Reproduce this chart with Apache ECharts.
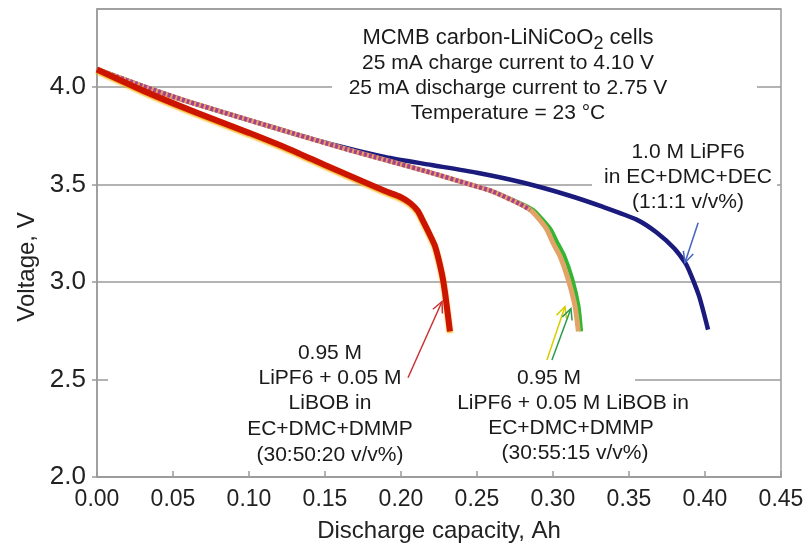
<!DOCTYPE html>
<html>
<head>
<meta charset="utf-8">
<title>Discharge capacity</title>
<script src="https://cdn.jsdelivr.net/npm/echarts@6/dist/echarts.min.js"></script>
<style>
  html, body { margin: 0; padding: 0; background: #fff; }
  #discharge-echart { width: 809px; height: 548px; }
</style>
</head>
<body>
<div id="discharge-echart"></div>
<script>
// axes
var xTicks = [0, 0.05, 0.1, 0.15, 0.2, 0.25, 0.3, 0.35, 0.4, 0.45];
var yTicks = [2.0, 2.5, 3.0, 3.5, 4.0];
var yMax = 4.4;

// 1.0 M LiPF6 in EC+DMC+DEC (1:1:1)
var capBlue = [0, 0.03, 0.06, 0.1, 0.13, 0.16, 0.19, 0.22, 0.25, 0.28, 0.31, 0.333, 0.355, 0.368, 0.38, 0.388, 0.396, 0.402];
var voltBlue = [4.09, 4.005, 3.925, 3.83, 3.76, 3.695, 3.64, 3.6, 3.56, 3.51, 3.445, 3.385, 3.32, 3.255, 3.17, 3.085, 2.93, 2.756];

// 0.95 M LiPF6 + 0.05 M LiBOB in EC+DMC+DMMP (30:50:20)
var capRed = [0, 0.0322, 0.065, 0.1, 0.127, 0.15, 0.175, 0.19, 0.2, 0.206, 0.211, 0.2147, 0.2185, 0.2224, 0.2268, 0.229, 0.2322];
var voltRed = [4.09, 3.975, 3.87, 3.765, 3.68, 3.6, 3.515, 3.465, 3.435, 3.405, 3.365, 3.31, 3.25, 3.184, 3.047, 2.944, 2.747];

// 0.95 M LiPF6 + 0.05 M LiBOB in EC+DMC+DMMP (30:55:15), cell a
var capOrange = [0, 0.03, 0.06, 0.1, 0.13, 0.16, 0.19, 0.22, 0.2454, 0.26, 0.2783, 0.2849, 0.29, 0.2959, 0.3, 0.3046, 0.31, 0.3145, 0.3167];
var voltOrange = [4.09, 4.005, 3.925, 3.83, 3.76, 3.69, 3.625, 3.56, 3.5, 3.465, 3.4, 3.37, 3.33, 3.27, 3.2, 3.133, 3.013, 2.876, 2.747];

// same electrolyte, cell b
var capGreen = [0, 0.03, 0.06, 0.1, 0.13, 0.16, 0.19, 0.22, 0.2454, 0.26, 0.2783, 0.287, 0.292, 0.2985, 0.303, 0.3075, 0.3128, 0.3168, 0.3185];
var voltGreen = [4.09, 4.005, 3.925, 3.83, 3.76, 3.69, 3.625, 3.56, 3.5, 3.465, 3.405, 3.37, 3.33, 3.27, 3.2, 3.133, 3.013, 2.876, 2.747];

// arrows: [tailCap, tailVolt, headCap, headVolt]
var arrowRed = [0.2046, 2.509, 0.2270, 2.90];
var arrowYellow = [0.2960, 2.60, 0.3079, 2.874];
var arrowGreen = [0.2993, 2.60, 0.3118, 2.864];
var arrowBlue = [0.3955, 3.304, 0.3868, 3.099];

function pairs(xs, ys) {
  return xs.map(function (x, i) { return [x, ys[i]]; });
}

var FONT = '"Liberation Sans", Arial, Helvetica, sans-serif';
var pinkCount = capOrange.indexOf(0.2849) + 1;

var chart = echarts.init(document.getElementById('discharge-echart'));

chart.setOption({
  animation: false,
  backgroundColor: '#fff',
  grid: {
    left: 97,
    right: 28,
    top: 9,
    bottom: 71,
    show: true,
    borderColor: '#9a9a9a',
    borderWidth: 1.5
  },
  xAxis: {
    type: 'value',
    min: xTicks[0],
    max: xTicks[xTicks.length - 1],
    interval: 0.05,
    name: 'Discharge capacity, Ah',
    nameLocation: 'middle',
    nameGap: 42,
    nameTextStyle: { fontFamily: FONT, fontSize: 24, color: '#222' },
    axisLine: { lineStyle: { color: '#9a9a9a', width: 1.5 } },
    axisTick: { inside: true, length: 6, lineStyle: { color: '#9a9a9a', width: 1.5 } },
    axisLabel: {
      margin: 11,
      fontFamily: FONT,
      fontSize: 23,
      color: '#222',
      formatter: function (v) { return v.toFixed(2); }
    },
    splitLine: { show: false }
  },
  yAxis: {
    type: 'value',
    min: yTicks[0],
    max: yMax,
    interval: 0.5,
    axisLine: { show: true, lineStyle: { color: '#9a9a9a', width: 1.5 } },
    axisTick: { show: true, length: 5, lineStyle: { color: '#9a9a9a', width: 1.5 } },
    axisLabel: {
      margin: 11,
      fontFamily: FONT,
      fontSize: 26,
      color: '#222',
      showMaxLabel: false,
      formatter: function (v) {
        for (var i = 0; i < yTicks.length; i++) {
          if (Math.abs(yTicks[i] - v) < 1e-6) return v.toFixed(1);
        }
        return '';
      }
    },
    splitLine: { lineStyle: { color: '#9a9a9a', width: 1.5 } }
  },
  series: [
    {
      type: 'line',
      name: '1.0 M LiPF6',
      data: pairs(capBlue, voltBlue),
      showSymbol: false,
      smooth: 0.2,
      lineStyle: { color: '#1b1b7d', width: 4.5 },
      z: 2
    },
    {
      type: 'line',
      name: '30:55:15 b',
      data: pairs(capGreen, voltGreen),
      showSymbol: false,
      smooth: 0.2,
      lineStyle: { color: '#33b533', width: 4 },
      z: 3
    },
    {
      type: 'line',
      name: '30:55:15 a',
      data: pairs(capOrange, voltOrange),
      showSymbol: false,
      smooth: 0.2,
      lineStyle: { color: '#e2a466', width: 5 },
      z: 4
    },
    {
      type: 'line',
      name: '30:55:15 a markers',
      data: pairs(capOrange.slice(0, pinkCount), voltOrange.slice(0, pinkCount)),
      showSymbol: false,
      smooth: 0.2,
      lineStyle: { color: '#a8408e', width: 4.5, type: [3, 2] },
      z: 5
    },
    {
      type: 'line',
      name: '30:50:20',
      data: pairs(capRed, voltRed),
      showSymbol: false,
      smooth: 0.2,
      lineStyle: {
        color: '#cc1500',
        width: 6,
        shadowColor: 'rgba(245,170,0,0.9)',
        shadowBlur: 2,
        shadowOffsetY: 1.5
      },
      z: 6
    }
  ]
});

var measureCtx = document.createElement('canvas').getContext('2d');
function textWidth(t, size) {
  measureCtx.font = size + 'px ' + FONT;
  return measureCtx.measureText(t).width;
}

function textLine(x, y, text, extra) {
  var style = {
    text: text,
    fontFamily: FONT,
    fontSize: 21,
    fill: '#1a1a1a',
    align: 'center',
    verticalAlign: 'middle'
  };
  if (extra) {
    for (var k in extra) style[k] = extra[k];
  }
  return { type: 'text', x: x, y: y, z: 10, style: style };
}

function whiteBox(x, y, w, h) {
  return { type: 'rect', z: 1, shape: { x: x, y: y, width: w, height: h }, style: { fill: '#fff' } };
}

function arrow(a, color) {
  var p0 = chart.convertToPixel({ gridIndex: 0 }, [a[0], a[1]]);
  var p1 = chart.convertToPixel({ gridIndex: 0 }, [a[2], a[3]]);
  var ang = Math.atan2(p0[1] - p1[1], p0[0] - p1[0]);
  var len = 12, spread = 0.45;
  var l = [p1[0] + len * Math.cos(ang + spread), p1[1] + len * Math.sin(ang + spread)];
  var r = [p1[0] + len * Math.cos(ang - spread), p1[1] + len * Math.sin(ang - spread)];
  var st = { stroke: color, lineWidth: 1.5, fill: null };
  return [
    { type: 'polyline', z: 10, shape: { points: [p0, p1] }, style: st },
    { type: 'polyline', z: 10, shape: { points: [l, p1, r] }, style: st }
  ];
}

// first title line has a subscript, so it is laid out in three pieces
var t1a = 'MCMB carbon-LiNiCoO', t1s = '2', t1b = ' cells';
var w1a = textWidth(t1a, 22), w1s = textWidth(t1s, 18), w1b = textWidth(t1b, 22);
var t1x = 508 - (w1a + w1s + w1b) / 2;

var graphics = [
  whiteBox(332, 24, 425, 104),
  whiteBox(592, 140, 185, 74),
  whiteBox(108, 340, 347, 127),
  whiteBox(455, 366, 180, 98),

  textLine(t1x, 38, t1a, { align: 'left', fontSize: 22 }),
  textLine(t1x + w1a, 44, t1s, { align: 'left', fontSize: 18 }),
  textLine(t1x + w1a + w1s, 38, t1b, { align: 'left', fontSize: 22 }),
  textLine(508, 63, '25 mA charge current to 4.10 V'),
  textLine(508, 88, '25 mA discharge current to 2.75 V'),
  textLine(508, 113, 'Temperature = 23 \u00b0C'),

  textLine(688, 152, '1.0 M LiPF6'),
  textLine(688, 177, 'in EC+DMC+DEC'),
  textLine(688, 202, '(1:1:1 v/v%)'),

  textLine(330, 353, '0.95 M'),
  textLine(330, 378, 'LiPF6 + 0.05 M'),
  textLine(330, 403, 'LiBOB in'),
  textLine(330, 429, 'EC+DMC+DMMP'),
  textLine(330, 455, '(30:50:20 v/v%)'),

  textLine(549, 378, '0.95 M'),
  textLine(573, 403, 'LiPF6 + 0.05 M LiBOB in'),
  textLine(571, 428, 'EC+DMC+DMMP'),
  textLine(575, 453, '(30:55:15 v/v%)'),

  {
    type: 'text', x: 27, y: 267, rotation: Math.PI / 2, z: 10,
    style: { text: 'Voltage, V', fontFamily: FONT, fontSize: 24, fill: '#222', align: 'center', verticalAlign: 'middle' }
  }
];

graphics = graphics
  .concat(arrow(arrowRed, '#cc3333'))
  .concat(arrow(arrowYellow, '#d6cf00'))
  .concat(arrow(arrowGreen, '#2a9a4a'))
  .concat(arrow(arrowBlue, '#4463c0'));

chart.setOption({ graphic: graphics });
</script>
</body>
</html>
